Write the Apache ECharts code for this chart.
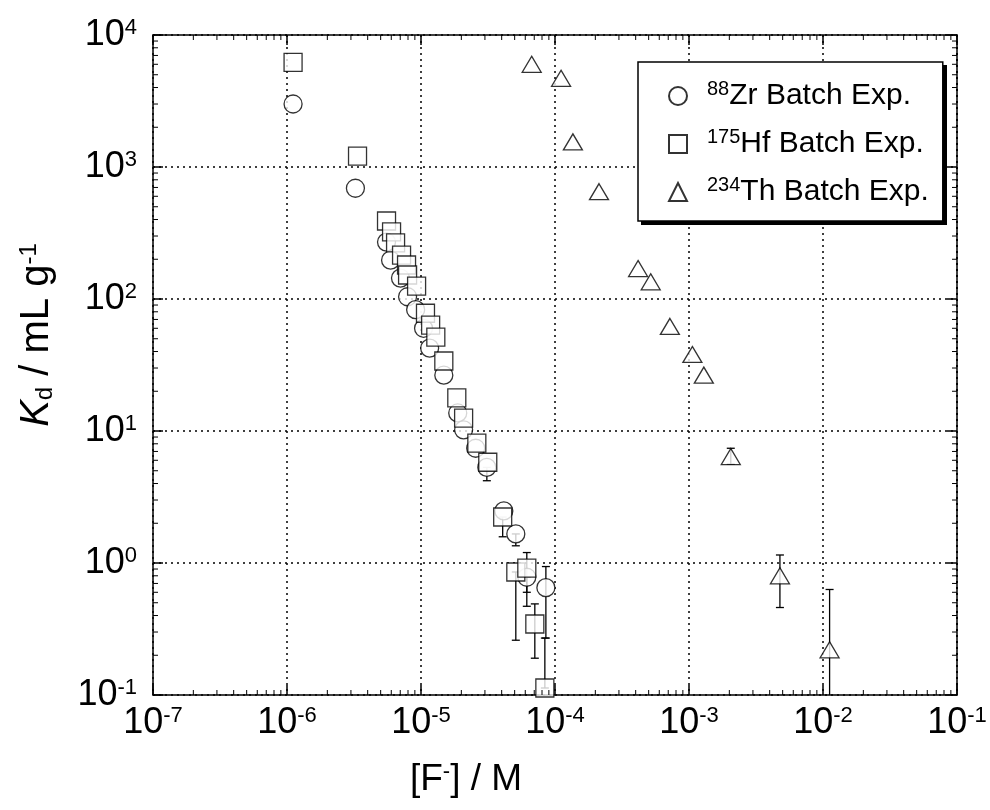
<!DOCTYPE html>
<html><head><meta charset="utf-8">
<script src="https://cdn.jsdelivr.net/npm/echarts@6/dist/echarts.min.js"></script>
<style>html,body{margin:0;padding:0;background:#fff}#c{width:990px;height:810px}</style>
</head><body><div id="c"></div><script>
// ---- data ----
const zrX = [1.11e-6, 3.24e-6, 5.53e-6, 5.93e-6, 7.03e-6, 7.94e-6, 9.12e-6, 1.045e-5, 1.16e-5, 1.48e-5, 1.88e-5, 2.08e-5, 2.56e-5, 3.1e-5, 4.15e-5, 5.1e-5, 6.16e-5, 8.55e-5];
const zrY = [3000, 690, 270, 197, 144, 104, 83, 60, 42.5, 26.5, 13.7, 10.2, 7.4, 5.3, 2.48, 1.66, 0.78, 0.65];
const hfX = [1.11e-6, 3.36e-6, 5.53e-6, 6.03e-6, 6.46e-6, 7.16e-6, 7.8e-6, 7.94e-6, 9.27e-6, 1.08e-5, 1.18e-5, 1.29e-5, 1.48e-5, 1.85e-5, 2.08e-5, 2.61e-5, 3.15e-5, 4.07e-5, 5.1e-5, 6.16e-5, 7.07e-5, 8.4e-5];
const hfY = [6200, 1210, 390, 322, 266, 215, 181, 152, 125, 78, 63.5, 51.5, 33.9, 17.8, 12.5, 8.1, 5.8, 2.23, 0.855, 0.916, 0.345, 0.113];
const thX = [6.7e-5, 1.11e-4, 1.36e-4, 2.13e-4, 4.17e-4, 5.18e-4, 7.2e-4, 1.06e-3, 1.29e-3, 2.05e-3, 4.77e-3, 1.12e-2];
const thY = [6000, 4700, 1550, 650, 170, 135, 62, 38, 26.5, 6.4, 0.8, 0.22];
// error bars: [x, low, high]
const zrErr = [[3.1e-5, 4.2, 5.3], [5.1e-5, 1.35, 1.66], [6.16e-5, 0.60, 0.78], [8.55e-5, 0.27, 0.94]];
const hfErr = [[4.07e-5, 1.58, 2.23], [5.1e-5, 0.26, 0.855], [6.16e-5, 0.47, 1.2], [7.07e-5, 0.19, 0.49], [8.4e-5, 0.113, 0.27]];
const thErr = [[2.05e-3, 5.6, 7.4], [4.77e-3, 0.46, 1.15], [1.12e-2, 0.05, 0.63]];
const xExponents = [-7, -6, -5, -4, -3, -2, -1];
const yExponents = [-1, 0, 1, 2, 3, 4];
const minorMultipliers = [2, 3, 4, 5, 6, 7, 8, 9];
const legendNames = ['Zr', 'Hf', 'Th'];
const legendIso = {Zr: '88', Hf: '175', Th: '234'};

// ---- chart ----
const FF = "'Liberation Sans', Arial, sans-serif";
const pair = (xs, ys) => xs.map((x, i) => [x, ys[i]]);
function minorVals(exps) {
  const out = [];
  for (let i = 0; i < exps.length - 1; i++)
    for (const m of minorMultipliers) out.push(m * Math.pow(10, exps[i]));
  return out;
}
const xMin = Math.pow(10, xExponents[0]), xMax = Math.pow(10, xExponents[xExponents.length - 1]);
const yMin = Math.pow(10, yExponents[0]), yMax = Math.pow(10, yExponents[yExponents.length - 1]);
const black = {color: '#000', width: 1.5};
const labelRich = {
  b: {fontSize: 36, fontFamily: FF, color: '#000'},
  s: {fontSize: 22, fontFamily: FF, color: '#000', verticalAlign: 'top'}
};
const fmt = v => '{b|10}{s|' + Math.round(Math.log10(v)) + '}';

function baseAxis(min, max, pos, split) {
  return {type: 'log', logBase: 10, min: min, max: max, position: pos, splitNumber: split};
}
const xAxes = [
  Object.assign(baseAxis(xMin, xMax, 'bottom', 6), {
    axisLine: {show: true, lineStyle: black},
    axisTick: {show: true, inside: true, length: 10, lineStyle: black},
    axisLabel: {formatter: fmt, rich: labelRich, margin: 10},
    splitLine: {show: true, lineStyle: {color: '#000', width: 1.5, type: [2, 4]}},
    name: '[F{sup|-}] / M', nameLocation: 'middle', nameGap: 66,
    nameTextStyle: {fontSize: 37, fontFamily: FF, color: '#000', padding: [0, 178, 0, 0],
      rich: {sup: {fontSize: 22, fontFamily: FF, verticalAlign: 'top'}}}
  }),
  Object.assign(baseAxis(xMin, xMax, 'top', 6), {
    axisLine: {show: true, lineStyle: black},
    axisTick: {show: true, inside: true, length: 10, lineStyle: black},
    axisLabel: {show: false}, splitLine: {show: false}
  })
];
const yAxes = [
  Object.assign(baseAxis(yMin, yMax, 'left', 5), {
    axisLine: {show: true, lineStyle: black},
    axisTick: {show: true, inside: true, length: 10, lineStyle: black},
    axisLabel: {formatter: fmt, rich: labelRich, margin: 16},
    splitLine: {show: true, lineStyle: {color: '#000', width: 1.5, type: [2, 4]}},
    name: '{i|K}{sub|d}{n| / mL g}{sup|-1}', nameLocation: 'middle', nameGap: 96, nameRotate: 90,
    nameTextStyle: {fontSize: 40, fontFamily: FF, color: '#000', padding: [0, 0, 0, 60], rich: {
      i: {fontSize: 40, fontFamily: FF, fontStyle: 'italic'},
      sub: {fontSize: 24, fontFamily: FF, verticalAlign: 'bottom'},
      n: {fontSize: 40, fontFamily: FF},
      sup: {fontSize: 24, fontFamily: FF, verticalAlign: 'top'}
    }}
  }),
  Object.assign(baseAxis(yMin, yMax, 'right', 5), {
    axisLine: {show: true, lineStyle: black},
    axisTick: {show: true, inside: true, length: 10, lineStyle: black},
    axisLabel: {show: false}, splitLine: {show: false}
  })
];

function errSeries(data) {
  return {
    type: 'custom', xAxisIndex: 0, yAxisIndex: 0, clip: true, silent: true, z: 1,
    encode: {x: 0, y: [1, 2]},
    data: data,
    renderItem: function (params, api) {
      const x = api.value(0);
      const pLo = api.coord([x, api.value(1)]);
      const pHi = api.coord([x, api.value(2)]);
      const w = 4, st = {stroke: '#000', lineWidth: 1.3};
      return {type: 'group', children: [
        {type: 'line', shape: {x1: pLo[0], y1: pLo[1], x2: pHi[0], y2: pHi[1]}, style: st},
        {type: 'line', shape: {x1: pLo[0] - w, y1: pLo[1], x2: pLo[0] + w, y2: pLo[1]}, style: st},
        {type: 'line', shape: {x1: pHi[0] - w, y1: pHi[1], x2: pHi[0] + w, y2: pHi[1]}, style: st}
      ]};
    }
  };
}
// minor ticks on all four sides, placed through the axis scales
function minorTickSeries(values, isX) {
  return {
    type: 'custom', xAxisIndex: 0, yAxisIndex: 0, silent: true, z: 5, clip: false,
    encode: {x: 0, y: 1},
    data: values.map(v => isX ? [v, yMin] : [xMin, v]),
    renderItem: function (params, api) {
      const cs = params.coordSys;
      const p = api.coord([api.value(0), api.value(1)]);
      const L = 5, st = {stroke: '#000', lineWidth: 1};
      if (isX) {
        const b = cs.y + cs.height, t = cs.y;
        return {type: 'group', children: [
          {type: 'line', shape: {x1: p[0], y1: b, x2: p[0], y2: b - L}, style: st},
          {type: 'line', shape: {x1: p[0], y1: t, x2: p[0], y2: t + L}, style: st}
        ]};
      }
      const l = cs.x, r = cs.x + cs.width;
      return {type: 'group', children: [
        {type: 'line', shape: {x1: l, y1: p[1], x2: l + L, y2: p[1]}, style: st},
        {type: 'line', shape: {x1: r, y1: p[1], x2: r - L, y2: p[1]}, style: st}
      ]};
    }
  };
}
const mk = {color: '#fff', borderColor: '#000', borderWidth: 1.3};
function sc(name, data, symbol, size) {
  return {name: name, type: 'scatter', xAxisIndex: 0, yAxisIndex: 0, symbol: symbol, symbolSize: size,
    itemStyle: mk, data: data, z: 3, emphasis: {disabled: true}};
}

const chart = echarts.init(document.getElementById('c'), null, {renderer: 'canvas'});
chart.setOption({
  animation: false,
  backgroundColor: '#fff',
  textStyle: {fontFamily: FF},
  grid: {left: 153, right: 33, top: 35, bottom: 115},
  xAxis: xAxes,
  yAxis: yAxes,
  legend: {
    data: legendNames, orient: 'vertical', left: 638, top: 62, z: 20,
    backgroundColor: '#fff', borderColor: '#000', borderWidth: 1.5,
    padding: [17, 14, 14, 30], itemGap: 16, itemWidth: 18, itemHeight: 18,
    formatter: n => '{sp|}{sup|' + legendIso[n] + '}{t|' + n + ' Batch Exp.}',
    textStyle: {rich: {
      sp: {width: 15},
      sup: {fontSize: 20, fontFamily: FF, color: '#000', verticalAlign: 'top', lineHeight: 34},
      t: {fontSize: 30, fontFamily: FF, color: '#000', lineHeight: 34}
    }}
  },
  graphic: [{
    type: 'rect', z: 15, silent: true,
    shape: {x: 641, y: 65, width: 306, height: 160},
    style: {fill: '#000'}
  }],
  series: [
    minorTickSeries(minorVals(xExponents), true),
    minorTickSeries(minorVals(yExponents), false),
    errSeries(zrErr), errSeries(hfErr), errSeries(thErr),
    sc('Zr', pair(zrX, zrY), 'circle', 18),
    sc('Hf', pair(hfX, hfY), 'rect', 18),
    sc('Th', pair(thX, thY), 'triangle', [19, 16])
  ]
});
</script></body></html>
